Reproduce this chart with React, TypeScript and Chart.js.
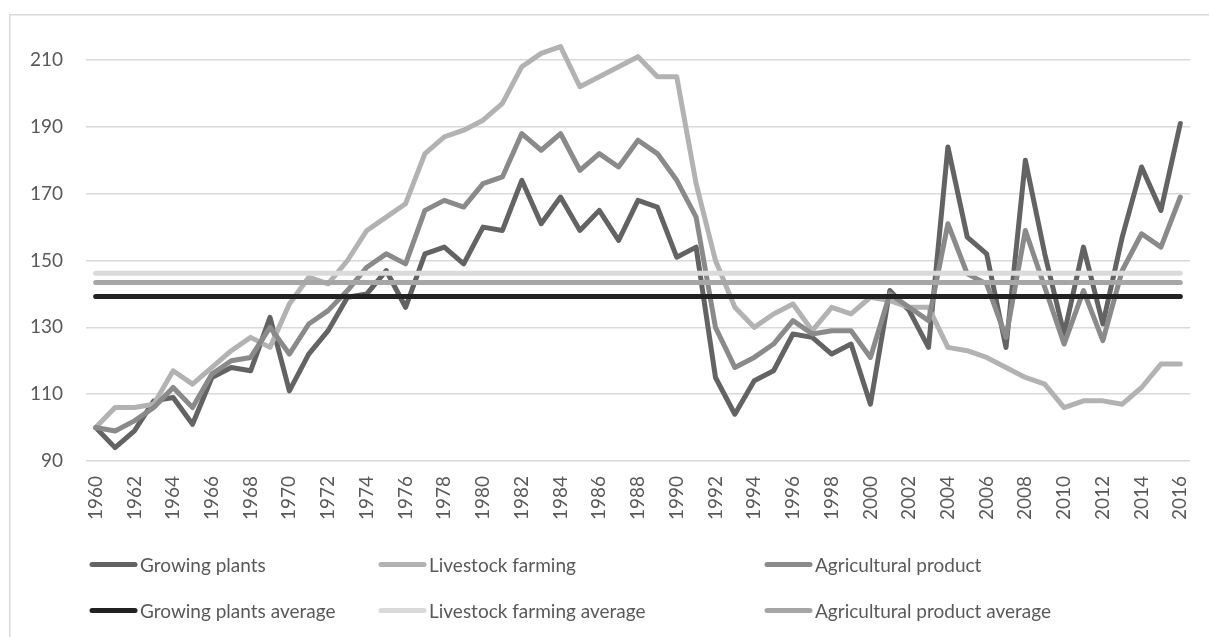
import React, { useEffect, useRef } from "react";
import { Chart, registerables } from "chart.js";

Chart.register(...registerables);

const years: string[] = [
  "1960","1961","1962","1963","1964","1965","1966","1967","1968","1969",
  "1970","1971","1972","1973","1974","1975","1976","1977","1978","1979",
  "1980","1981","1982","1983","1984","1985","1986","1987","1988","1989",
  "1990","1991","1992","1993","1994","1995","1996","1997","1998","1999",
  "2000","2001","2002","2003","2004","2005","2006","2007","2008","2009",
  "2010","2011","2012","2013","2014","2015","2016",
];

const growingPlants: number[] = [
  100, 94, 99, 108, 109, 101, 115, 118, 117, 133,
  111, 122, 129, 139, 140, 147, 136, 152, 154, 149,
  160, 159, 174, 161, 169, 159, 165, 156, 168, 166,
  151, 154, 115, 104, 114, 117, 128, 127, 122, 125,
  107, 141, 135, 124, 184, 157, 152, 124, 180, 152,
  128, 154, 131, 157, 178, 165, 191,
];

const livestockFarming: number[] = [
  100, 106, 106, 107, 117, 113, 118, 123, 127, 124,
  137, 145, 143, 150, 159, 163, 167, 182, 187, 189,
  192, 197, 208, 212, 214, 202, 205, 208, 211, 205,
  205, 173, 150, 136, 130, 134, 137, 129, 136, 134,
  139, 138, 136, 136, 124, 123, 121, 118, 115, 113,
  106, 108, 108, 107, 112, 119, 119,
];

const agriculturalProduct: number[] = [
  100, 99, 102, 106, 112, 106, 116, 120, 121, 130,
  122, 131, 135, 141, 148, 152, 149, 165, 168, 166,
  173, 175, 188, 183, 188, 177, 182, 178, 186, 182,
  174, 163, 130, 118, 121, 125, 132, 128, 129, 129,
  121, 140, 136, 132, 161, 146, 143, 127, 159, 142,
  125, 141, 126, 147, 158, 154, 169,
];

const growingPlantsAverage = 139.2;
const livestockFarmingAverage = 146.2;
const agriculturalProductAverage = 143.4;

const yTicks: number[] = [90, 110, 130, 150, 170, 190, 210];

const FONT = "Lato, 'Noto Sans', sans-serif";
const TEXT = "#595959";

const legendItems = [
  { label: "Growing plants", color: "#636363" },
  { label: "Livestock farming", color: "#b2b2b2" },
  { label: "Agricultural product", color: "#8a8a8a" },
  { label: "Growing plants average", color: "#222222" },
  { label: "Livestock farming average", color: "#dadada" },
  { label: "Agricultural product average", color: "#a6a6a6" },
];

const legendPlugin = {
  id: "customLegend",
  afterDraw(chart: any) {
    const ctx = chart.ctx;
    const colX = [90, 379, 765];
    const rowY = [564.5, 610.5];
    ctx.save();
    ctx.font = `19px ${FONT}`;
    ctx.textBaseline = "middle";
    ctx.textAlign = "left";
    legendItems.forEach((it, i) => {
      const c = i % 3;
      const r = Math.floor(i / 3);
      const x = colX[c];
      const y = rowY[r];
      ctx.strokeStyle = it.color;
      ctx.lineWidth = 5;
      ctx.lineCap = "round";
      ctx.beginPath();
      ctx.moveTo(x + 2, y);
      ctx.lineTo(x + 45, y);
      ctx.stroke();
      ctx.fillStyle = TEXT;
      ctx.fillText(it.label, x + 50, y + 1);
    });
    ctx.restore();
  },
  beforeDraw(chart: any) {
    const ctx = chart.ctx;
    ctx.save();
    ctx.fillStyle = "#ffffff";
    ctx.fillRect(0, 0, chart.width, chart.height);
    ctx.strokeStyle = "#d9d9d9";
    ctx.lineWidth = 1.5;
    ctx.beginPath();
    ctx.moveTo(9.75, chart.height + 5);
    ctx.lineTo(9.75, 14.75);
    ctx.lineTo(chart.width + 5, 14.75);
    ctx.stroke();
    ctx.restore();
  },
};

const constant = (v: number) => years.map(() => v);

export default function App() {
  const ref = useRef<HTMLCanvasElement | null>(null);

  useEffect(() => {
    if (!ref.current) return;
    const lineDs = (label: string, data: number[], color: string, order: number) => ({
      label,
      data,
      borderColor: color,
      backgroundColor: color,
      borderWidth: 5,
      pointRadius: 0,
      tension: 0,
      fill: false,
      borderJoinStyle: "round" as const,
      borderCapStyle: "round" as const,
      order,
    });
    const chart = new Chart(ref.current, {
      type: "line",
      data: {
        labels: years,
        datasets: [
          lineDs("Growing plants", growingPlants, "#636363", 6),
          lineDs("Livestock farming", livestockFarming, "#b2b2b2", 5),
          lineDs("Agricultural product", agriculturalProduct, "#8a8a8a", 4),
          lineDs("Growing plants average", constant(growingPlantsAverage), "#222222", 3),
          lineDs("Livestock farming average", constant(livestockFarmingAverage), "#dadada", 2),
          lineDs("Agricultural product average", constant(agriculturalProductAverage), "#a6a6a6", 1),
        ],
      },
      options: {
        animation: false,
        responsive: false,
        maintainAspectRatio: false,
        layout: { padding: { left: 20, right: 19, top: 26.6, bottom: 76 } },
        plugins: {
          legend: { display: false },
          tooltip: { enabled: false },
        },
        scales: {
          x: {
            type: "category",
            offset: true,
            grid: { display: false, drawTicks: false },
            border: { display: false },
            afterFit(scale: any) {
              scale.height = 100;
              scale.paddingLeft = 0;
              scale.paddingRight = 0;
              scale.paddingTop = 0;
              scale.paddingBottom = 0;
            },
            ticks: {
              autoSkip: false,
              maxRotation: 90,
              minRotation: 90,
              padding: 15,
              color: TEXT,
              font: { family: FONT, size: 19 },
              callback(_v: any, i: number) {
                return i % 2 === 0 ? years[i] : "";
              },
            },
          },
          y: {
            min: 90,
            max: 220,
            afterFit(scale: any) {
              scale.width = 66;
              scale.paddingTop = 0;
              scale.paddingBottom = 0;
              scale.paddingLeft = 0;
              scale.paddingRight = 0;
            },
            afterBuildTicks(scale: any) {
              scale.ticks = yTicks.map((v) => ({ value: v }));
            },
            grid: { color: "#d9d9d9", lineWidth: 1.5, drawTicks: false },
            border: { display: false },
            ticks: {
              padding: 23,
              color: TEXT,
              font: { family: FONT, size: 19 },
            },
          },
        },
      },
      plugins: [legendPlugin],
    });
    return () => chart.destroy();
  }, []);

  return (
    <div style={{ position: "fixed", left: 0, top: 0, width: 1209, height: 637, background: "#fff" }}>
      <canvas ref={ref} width={1209} height={637} style={{ display: "block" }} />
    </div>
  );
}
